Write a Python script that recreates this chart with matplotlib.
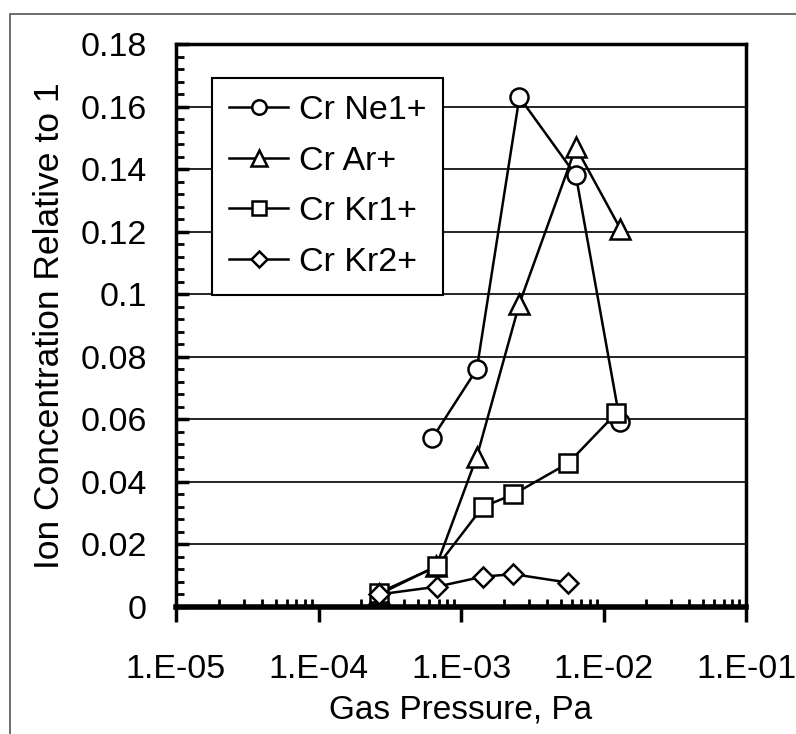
import numpy as np
import matplotlib
matplotlib.use("Agg")
import matplotlib.pyplot as plt
from matplotlib.ticker import FixedLocator, LogLocator, NullFormatter
from matplotlib.patches import Rectangle

plt.rcParams['font.family'] = ['Liberation Sans', 'DejaVu Sans']

# данные
ne_x = [6.3e-4, 1.29e-3, 2.57e-3, 6.4e-3, 1.31e-2]
ne_y = [0.054, 0.076, 0.163, 0.138, 0.059]

ar_x = [2.64e-4, 6.7e-4, 1.29e-3, 2.57e-3, 6.4e-3, 1.31e-2]
ar_y = [0.004, 0.013, 0.048, 0.097, 0.147, 0.121]

kr1_x = [2.64e-4, 6.8e-4, 1.42e-3, 2.33e-3, 5.66e-3, 1.23e-2]
kr1_y = [0.0045, 0.013, 0.032, 0.036, 0.046, 0.062]

kr2_x = [2.64e-4, 6.8e-4, 1.42e-3, 2.33e-3, 5.66e-3]
kr2_y = [0.004, 0.0065, 0.0097, 0.0105, 0.0078]

x_ticks = [1e-5, 1e-4, 1e-3, 1e-2, 1e-1]
x_labels = ["1.E-05", "1.E-04", "1.E-03", "1.E-02", "1.E-01"]
y_ticks = [0, 0.02, 0.04, 0.06, 0.08, 0.1, 0.12, 0.14, 0.16, 0.18]
y_labels = ["0", "0.02", "0.04", "0.06", "0.08", "0.1", "0.12", "0.14", "0.16", "0.18"]

fig = plt.figure(figsize=(7.96, 7.34), dpi=100)
ax = fig.add_axes([176 / 796, 127 / 734, 570 / 796, 563 / 734])

# рамка вокруг всей картинки
fig.patches.append(Rectangle((10 / 796, -0.1), 1.2, (734 - 14) / 734 + 0.1,
                             transform=fig.transFigure, fill=False,
                             edgecolor="#555555", linewidth=1.2))

style = dict(color="black", linewidth=1.8, markerfacecolor="white",
             markeredgecolor="black", markeredgewidth=1.8)
ax.plot(ne_x, ne_y, marker="o", markersize=13, label="Cr Ne1+", **style)
ax.plot(ar_x, ar_y, marker="^", markersize=14, label="Cr Ar+", **style)
ax.plot(kr1_x, kr1_y, marker="s", markersize=13, label="Cr Kr1+", **style)
ax.plot(kr2_x, kr2_y, marker="D", markersize=10, label="Cr Kr2+", **style)

ax.set_xscale("log")
ax.set_xlim(1e-5, 1e-1)
ax.set_ylim(0, 0.18)

ax.set_xticks(x_ticks)
ax.set_xticklabels(x_labels)
ax.xaxis.set_minor_locator(LogLocator(base=10, subs=np.arange(2, 10)))
ax.xaxis.set_minor_formatter(NullFormatter())
ax.set_yticks(y_ticks)
ax.set_yticklabels(y_labels)
ax.yaxis.set_minor_locator(FixedLocator(np.arange(0, 0.1801, 0.004)))

ax.tick_params(axis="x", which="major", direction="out", length=11, width=2.5,
               labelsize=24.5, pad=23)
ax.tick_params(axis="x", which="minor", direction="in", length=6, width=2)
ax.tick_params(axis="y", which="major", direction="in", length=9, width=2.5,
               labelsize=24.5, pad=21)
ax.tick_params(axis="y", which="minor", direction="in", length=6, width=2)

ax.grid(axis="y", which="major", color="black", linewidth=1.2)
ax.set_axisbelow(True)

for side in ["left", "top", "right"]:
    ax.spines[side].set_linewidth(2.5)
ax.spines["bottom"].set_linewidth(4)

ax.set_xlabel("Gas Pressure, Pa", fontsize=24, labelpad=7)
ax.set_ylabel("Ion Concentration Relative to 1", fontsize=25.5, labelpad=10)

leg = ax.legend(loc="upper left", bbox_to_anchor=(0.063, 0.94), fontsize=24.5,
                fancybox=False, framealpha=1, edgecolor="black",
                handlelength=1.75, handletextpad=0.3, borderpad=0.5,
                labelspacing=0.58, markerscale=0.8, borderaxespad=0)
leg.get_frame().set_linewidth(1.5)

fig.savefig("out.png", dpi=100)
